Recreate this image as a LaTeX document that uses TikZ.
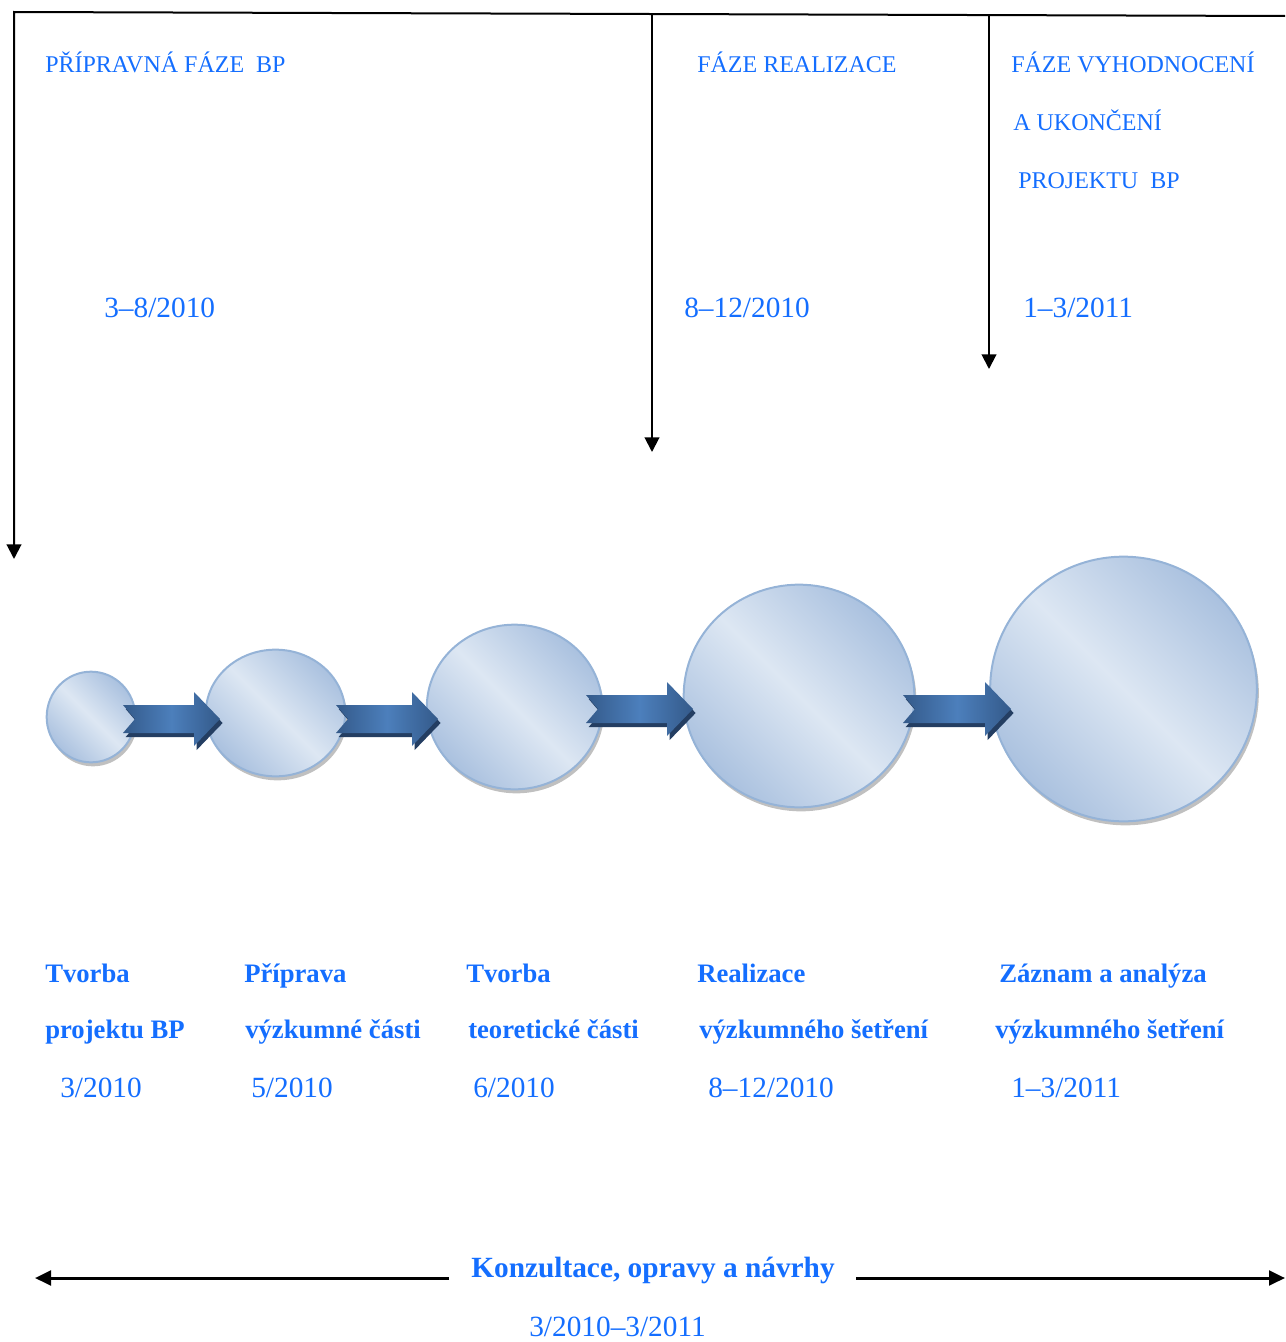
\documentclass[tikz,border=0pt]{standalone}
\usepackage{fontspec}
\setmainfont{Liberation Serif}
\usetikzlibrary{arrows.meta,shapes.geometric,shadows,calc}

\definecolor{txtblue}{RGB}{20,110,255}
\definecolor{bubbleedge}{RGB}{149,179,215}
\definecolor{bubbledark}{RGB}{170,193,223}
\definecolor{bubblelight}{RGB}{221,231,243}
\definecolor{arrowmid}{RGB}{76,127,188}
\definecolor{arrowend}{RGB}{52,90,138}
\definecolor{arrowdark}{RGB}{36,62,98}

\tikzset{
  phase/.style={anchor=base west, inner sep=0pt, text=txtblue, font=\fontsize{18}{20}\selectfont},
  period/.style={anchor=base west, inner sep=0pt, text=txtblue, font=\fontsize{22}{24}\selectfont},
  steplbl/.style={anchor=base west, inner sep=0pt, text=txtblue, font=\bfseries\fontsize{20}{22}\selectfont},
  bubble/.style={ellipse, draw=bubbleedge, line width=1.5pt, inner sep=0pt,
    top color=bubbledark, bottom color=bubbledark, middle color=bubblelight, shading angle=-45,
    drop shadow={shadow xshift=1.5pt, shadow yshift=-3pt, fill=black!45, opacity=0.55}},
  timeline/.style={line width=1.5pt, -{Triangle[width=11pt,length=11pt]}},
  spanline/.style={line width=2.25pt, -{Triangle[width=11pt,length=12pt]}},
}

% block arrow between two coordinates (tail, tip)
\newcommand{\arrowpath}[2]{(#2) -- ($(#2)+(-26,-27)$) -- ($(#2)+(-26,-14)$) -- ($(#1)+(0,-14)$)
  -- ($(#1)+(12,0)$) -- ($(#1)+(0,14)$) -- ($(#2)+(-26,14)$) -- ($(#2)+(-26,27)$) -- cycle}
\newcommand{\blockarrow}[2]{%
  \fill[arrowdark, transform canvas={xshift=2pt, yshift=-3pt}] \arrowpath{#1}{#2};
  \shade[left color=arrowend, right color=arrowend, middle color=arrowmid] \arrowpath{#1}{#2};
}

\begin{document}
\begin{tikzpicture}[x=0.75pt,y=0.75pt,yscale=-1,xscale=1]
\useasboundingbox (0,0) rectangle (1285,1342);

% Phase lines
\coordinate (tl) at (14,12);
\coordinate (tr) at (1285,16);
\coordinate (ta) at (652,14);
\coordinate (tb) at (989,15);
\coordinate (el) at (14,559);
\coordinate (ea) at (652,452);
\coordinate (eb) at (989,369);
\draw[timeline] (tr) -- (tl) -- (el);
\draw[timeline] (ta) -- (ea);
\draw[timeline] (tb) -- (eb);

% Text Node
\node[phase] (ph1) at (45,72) {PŘÍPRAVNÁ FÁZE \ BP};
\node[phase] (ph2) at (697,72) {FÁZE REALIZACE};
\node[phase] (ph3) at (1011,72) {FÁZE VYHODNOCENÍ};
\node[phase] (ph3b) at (1013,130) {A UKONČENÍ};
\node[phase] (ph3c) at (1018,188) {PROJEKTU \ BP};
% Text Node
\node[period] (pd1) at (104,317) {3--8/2010};
\node[period] (pd2) at (684,317) {8--12/2010};
\node[period] (pd3) at (1023,317) {1--3/2011};

% Bubbles (sizes in pt)
\node[bubble, minimum width=66.5pt, minimum height=68pt] (b1) at (91,717) {};
\node[bubble, minimum width=104.5pt, minimum height=95pt] (b2) at (275.5,713) {};
\node[bubble, minimum width=131.5pt, minimum height=123.5pt] (b3) at (514.5,707) {};
\node[bubble, minimum width=173pt, minimum height=167pt] (b4) at (799,696) {};
\node[bubble, minimum width=200pt, minimum height=198.5pt] (b5) at (1123.5,689) {};

% Connection
\coordinate (a1t) at (123,719);
\coordinate (a1h) at (220,719);
\coordinate (a2t) at (336,719);
\coordinate (a2h) at (438,719);
\coordinate (a3t) at (586,709);
\coordinate (a3h) at (693,709);
\coordinate (a4t) at (903,709);
\coordinate (a4h) at (1011,709);
\blockarrow{a1t}{a1h}
\blockarrow{a2t}{a2h}
\blockarrow{a3t}{a3h}
\blockarrow{a4t}{a4h}

% Text Node
\node[steplbl] (s1a) at (45,982) {Tvorba};
\node[steplbl] (s1b) at (45,1038) {projektu BP};
\node[period] (s1c) at (60,1097) {3/2010};
% Text Node
\node[steplbl] (s2a) at (244,982) {Příprava};
\node[steplbl] (s2b) at (245,1038) {výzkumné části};
\node[period] (s2c) at (251,1097) {5/2010};
% Text Node
\node[steplbl] (s3a) at (466,982) {Tvorba};
\node[steplbl] (s3b) at (468,1038) {teoretické části};
\node[period] (s3c) at (473,1097) {6/2010};
% Text Node
\node[steplbl] (s4a) at (697,982) {Realizace};
\node[steplbl] (s4b) at (699,1038) {výzkumného šetření};
\node[period] (s4c) at (708,1097) {8--12/2010};
% Text Node
\node[steplbl] (s5a) at (999,982) {Záznam a analýza};
\node[steplbl] (s5b) at (995,1038) {výzkumného šetření};
\node[period] (s5c) at (1011,1097) {1--3/2011};

% Text Node
\node[steplbl, font=\bfseries\fontsize{22}{24}\selectfont] (kons) at (471,1277) {Konzultace, opravy a návrhy};
\node[period] (konsd) at (529,1336) {3/2010--3/2011};

% Connection
\coordinate (kl) at (449,1278);
\coordinate (kle) at (35,1278);
\coordinate (kr) at (856,1278);
\coordinate (kre) at (1285,1278);
\draw[spanline] (kl) -- (kle);
\draw[spanline] (kr) -- (kre);

\end{tikzpicture}
\end{document}
